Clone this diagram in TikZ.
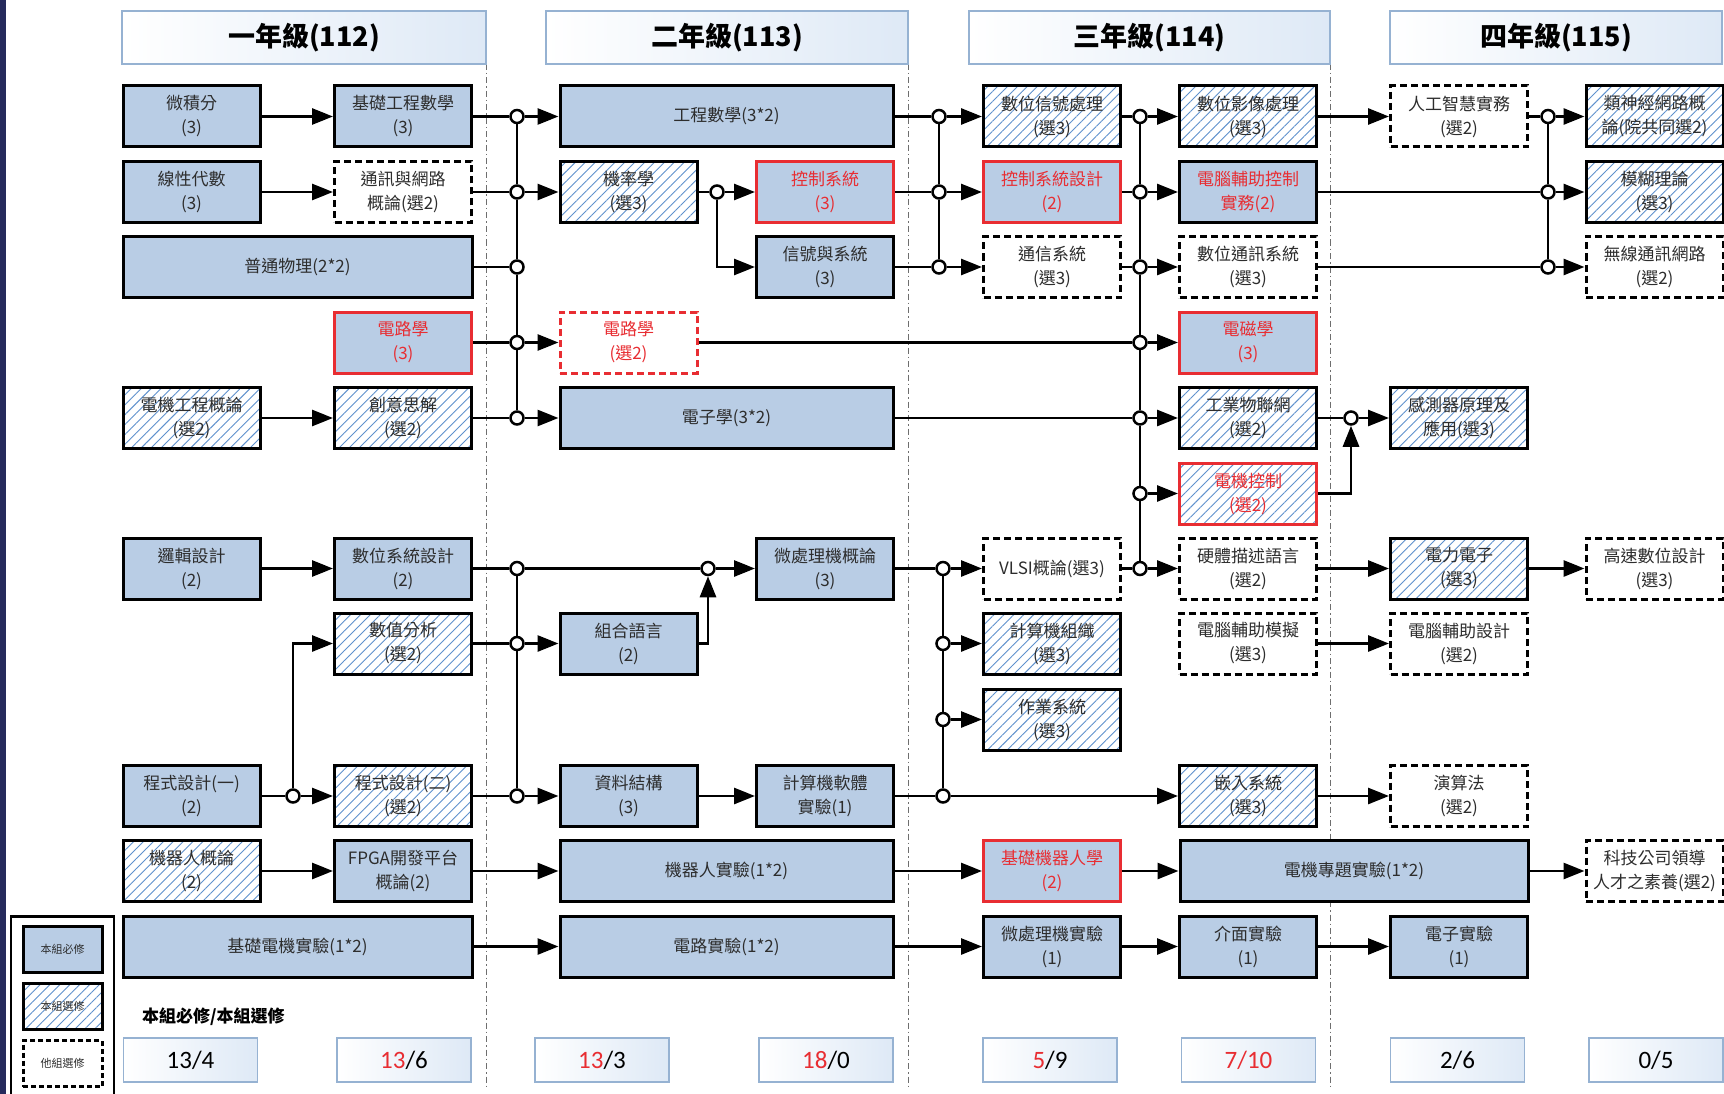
\documentclass[tikz,border=0pt]{standalone}
\usepackage{fontspec}
\setmainfont{Noto Sans CJK TC}
\newfontfamily\numfont{Carlito}
\usetikzlibrary{arrows.meta,patterns.meta}
\definecolor{boxblue}{RGB}{185,205,229}
\definecolor{hatchblue}{RGB}{95,145,205}
\definecolor{redc}{RGB}{232,45,50}
\definecolor{txt}{RGB}{45,45,45}
\definecolor{tborder}{RGB}{150,178,210}
\definecolor{tfill}{RGB}{222,233,246}
\definecolor{navy}{RGB}{38,42,92}
\definecolor{divc}{RGB}{110,110,110}
\tikzset{
  base/.style={minimum width=137pt, minimum height=61pt, inner sep=0pt, align=center,
    font=\fontsize{17}{24}\selectfont, text=txt, line width=3pt},
  req/.style={base, draw=black, fill=boxblue},
  opt/.style={base, draw=black, preaction={fill=white},
    pattern={Lines[angle=45,distance=7pt,line width=0.9pt]}, pattern color=hatchblue},
  oth/.style={base, draw=black, fill=white, dash pattern=on 7pt off 4pt},
  redb/.style={draw=redc, text=redc},
  redt/.style={text=redc},
  wideA/.style={minimum width=349pt},
  wideB/.style={minimum width=333pt},
  wideC/.style={minimum width=348pt},
  ln/.style={line width=2.8pt, draw=black},
  arr/.style={ln, -{Triangle[length=21pt,width=16pt]}},
  jn/.style={circle, draw=black, fill=white, line width=2.5pt, minimum size=13pt, inner sep=0pt},
  titlebox/.style={draw=tborder, line width=1.5pt, left color=white, right color=tfill,
    inner sep=0pt, font=\fontsize{27}{30}\selectfont\bfseries, text=black},
  cntbox/.style={draw=tborder, line width=1.5pt, left color=white, right color=tfill,
    minimum width=134pt, minimum height=44pt, inner sep=0pt, font=\numfont\fontsize{25}{28}\selectfont, text=black},
  divider/.style={draw=divc, line width=1pt, dash pattern=on 6pt off 3pt on 1.5pt off 3pt},
  legitem/.style={minimum width=79pt, minimum height=46pt, inner sep=0pt, font=\fontsize{11}{13}\selectfont, text=txt, line width=3pt}
}
\begin{document}
\begin{tikzpicture}[x=1pt,y=-1pt]
\useasboundingbox (0,0) rectangle (1724,1094);
\fill[white] (0,0) rectangle (1724,1094);
\fill[navy] (0,0) rectangle (6,1094);

% column dividers
\draw[divider] (486,64) -- (486,1088);
\draw[divider] (908,64) -- (908,1088);
\draw[divider] (1330,64) -- (1330,1088);

% titles
\node[titlebox, minimum width=364pt, minimum height=53pt] (t1) at (304,37.5) {一年級(112)};
\node[titlebox, minimum width=362pt, minimum height=53pt] (t2) at (727,37.5) {二年級(113)};
\node[titlebox, minimum width=361pt, minimum height=53pt] (t3) at (1149.5,37.5) {三年級(114)};
\node[titlebox, minimum width=332pt, minimum height=53pt] (t4) at (1556,37.5) {四年級(115)};

% ---------- year 1 ----------
\node[req] (calc) at (191.5,116.5) {微積分\\(3)};
\node[req] (bem) at (403,116.5) {基礎工程數學\\(3)};
\node[req] (linalg) at (191.5,192) {線性代數\\(3)};
\node[oth] (comm) at (403,192) {通訊與網路\\概論(選2)};
\node[req, wideA] (phys) at (297.5,267) {普通物理(2*2)};
\node[req, redb] (circ1) at (403,342.5) {電路學\\(3)};
\node[opt] (eeintro) at (191.5,418) {電機工程概論\\(選2)};
\node[opt] (creat) at (403,418) {創意思解\\(選2)};
\node[req] (logic) at (191.5,568.5) {邏輯設計\\(2)};
\node[req] (dsd) at (403,568.5) {數位系統設計\\(2)};
\node[opt] (numan) at (403,643.5) {數值分析\\(選2)};
\node[req] (prog1) at (191.5,796) {程式設計(一)\\(2)};
\node[opt] (prog2) at (403,796) {程式設計(二)\\(選2)};
\node[opt] (robintro) at (191.5,871) {機器人概論\\(2)};
\node[req] (fpga) at (403,871) {FPGA開發平台\\概論(2)};
\node[req, wideA] (eelab) at (297.5,946.5) {基礎電機實驗(1*2)};

% ---------- year 2 ----------
\node[req, wideB] (engmath) at (726.5,116.5) {工程數學(3*2)};
\node[opt] (prob) at (628.5,192) {機率學\\(選3)};
\node[req, redb] (ctrl) at (825,192) {控制系統\\(3)};
\node[req] (sigsys) at (825,267) {信號與系統\\(3)};
\node[oth, redb] (circ2) at (628.5,342.5) {電路學\\(選2)};
\node[req, wideB] (elec) at (726.5,418) {電子學(3*2)};
\node[req] (micro) at (825,568.5) {微處理機概論\\(3)};
\node[req] (asm) at (628.5,643.5) {組合語言\\(2)};
\node[req] (ds) at (628.5,796) {資料結構\\(3)};
\node[req] (swlab) at (825,796) {計算機軟體\\實驗(1)};
\node[req, wideB] (roblab) at (726.5,871) {機器人實驗(1*2)};
\node[req, wideB] (circlab) at (726.5,946.5) {電路實驗(1*2)};

% ---------- year 3 ----------
\node[opt] (dsp) at (1052,116.5) {數位信號處理\\(選3)};
\node[req, redb] (ctrld) at (1052,192) {控制系統設計\\(2)};
\node[oth] (commsys) at (1052,267) {通信系統\\(選3)};
\node[oth] (vlsi) at (1052,568.5) {VLSI概論(選3)};
\node[opt] (co) at (1052,643.5) {計算機組織\\(選3)};
\node[opt] (os) at (1052,719.5) {作業系統\\(選3)};
\node[req, redb] (robo) at (1052,871) {基礎機器人學\\(2)};
\node[req] (uplab) at (1052,946.5) {微處理機實驗\\(1)};

\node[opt] (dip) at (1248,116.5) {數位影像處理\\(選3)};
\node[req, redt] (cacp) at (1248,192) {電腦輔助控制\\實務(2)};
\node[oth] (dcomm) at (1248,267) {數位通訊系統\\(選3)};
\node[req, redb] (em) at (1248,342.5) {電磁學\\(3)};
\node[opt] (iiot) at (1248,418) {工業物聯網\\(選2)};
\node[opt, redb] (motor) at (1248,493.5) {電機控制\\(選2)};
\node[oth] (hdl) at (1248,568.5) {硬體描述語言\\(選2)};
\node[oth] (cas) at (1248,643.5) {電腦輔助模擬\\(選3)};
\node[opt] (emb) at (1248,796) {嵌入系統\\(選3)};
\node[req, wideC] (proj) at (1354,871) {電機專題實驗(1*2)};
\node[req] (iflab) at (1248,946.5) {介面實驗\\(1)};

% ---------- year 4 ----------
\node[oth] (ai) at (1459,116.5) {人工智慧實務\\(選2)};
\node[opt] (sensor) at (1459,418) {感測器原理及\\應用(選3)};
\node[opt] (pe) at (1459,568.5) {電力電子\\(選3)};
\node[oth] (cad) at (1459,643.5) {電腦輔助設計\\(選2)};
\node[oth] (algo) at (1459,796) {演算法\\(選2)};
\node[req] (elab) at (1459,946.5) {電子實驗\\(1)};

\node[opt] (nn) at (1654.5,116.5) {類神經網路概\\論(院共同選2)};
\node[opt] (fuzzy) at (1654.5,192) {模糊理論\\(選3)};
\node[oth] (wireless) at (1654.5,267) {無線通訊網路\\(選2)};
\node[oth] (hsd) at (1654.5,568.5) {高速數位設計\\(選3)};
\node[oth] (lead) at (1654.5,871) {科技公司領導\\人才之素養(選2)};

% ---------- junctions ----------
\node[jn] (jp) at (293,796) {};
\node[jn] (ja1) at (517,116.5) {};
\node[jn] (ja2) at (517,192) {};
\node[jn] (ja3) at (517,267) {};
\node[jn] (ja4) at (517,342.5) {};
\node[jn] (ja5) at (517,418) {};
\node[jn] (ja7) at (517,568.5) {};
\node[jn] (ja8) at (517,643.5) {};
\node[jn] (ja10) at (517,796) {};
\node[jn] (jb7) at (708,568.5) {};
\node[jn] (jc2) at (717,192) {};
\node[jn] (jd1) at (939,116.5) {};
\node[jn] (jd2) at (939,192) {};
\node[jn] (jd3) at (939,267) {};
\node[jn] (je7) at (943,568.5) {};
\node[jn] (je8) at (943,643.5) {};
\node[jn] (je9) at (943,719.5) {};
\node[jn] (je10) at (943,796) {};
\node[jn] (jf1) at (1140,116.5) {};
\node[jn] (jf2) at (1140,192) {};
\node[jn] (jf3) at (1140,267) {};
\node[jn] (jf4) at (1140,342.5) {};
\node[jn] (jf5) at (1140,418) {};
\node[jn] (jf6) at (1140,493.5) {};
\node[jn] (jf7) at (1140,568.5) {};
\node[jn] (jg5) at (1351,418) {};
\node[jn] (jh1) at (1548,116.5) {};
\node[jn] (jh2) at (1548,192) {};
\node[jn] (jh3) at (1548,267) {};

% ---------- connectors ----------
% year 1 internal
\draw[arr] (calc.east) -- (bem.west);
\draw[arr] (linalg.east) -- (comm.west);
\draw[arr] (eeintro.east) -- (creat.west);
\draw[arr] (logic.east) -- (dsd.west);
\draw[ln] (prog1.east) -- (jp);
\draw[arr] (jp) -- (prog2.west);
\draw[arr] (jp) |- (numan.west);
\draw[arr] (robintro.east) -- (fpga.west);

% year 1 -> year 2
\draw[ln] (bem.east) -- (ja1);
\draw[arr] (ja1) -- (engmath.west);
\draw[ln] (comm.east) -- (ja2);
\draw[arr] (ja2) -- (prob.west);
\draw[ln] (phys.east) -- (ja3);
\draw[ln] (circ1.east) -- (ja4);
\draw[arr] (ja4) -- (circ2.west);
\draw[ln] (creat.east) -- (ja5);
\draw[arr] (ja5) -- (elec.west);
\draw[ln] (ja1) -- (ja2);
\draw[ln] (ja2) -- (ja3);
\draw[ln] (ja3) -- (ja4);
\draw[ln] (ja4) -- (ja5);
\draw[ln] (dsd.east) -- (ja7);
\draw[ln] (ja7) -- (jb7);
\draw[arr] (jb7) -- (micro.west);
\draw[arr] (asm.east) -| (jb7);
\draw[ln] (numan.east) -- (ja8);
\draw[arr] (ja8) -- (asm.west);
\draw[ln] (prog2.east) -- (ja10);
\draw[arr] (ja10) -- (ds.west);
\draw[ln] (ja7) -- (ja8);
\draw[ln] (ja8) -- (ja10);
\draw[arr] (fpga.east) -- (roblab.west);
\draw[arr] (eelab.east) -- (circlab.west);

% year 2 internal
\draw[ln] (prob.east) -- (jc2);
\draw[arr] (jc2) -- (ctrl.west);
\draw[arr] (jc2) |- (sigsys.west);
\draw[arr] (ds.east) -- (swlab.west);

% year 2 -> year 3
\draw[ln] (engmath.east) -- (jd1);
\draw[arr] (jd1) -- (dsp.west);
\draw[ln] (ctrl.east) -- (jd2);
\draw[arr] (jd2) -- (ctrld.west);
\draw[ln] (sigsys.east) -- (jd3);
\draw[arr] (jd3) -- (commsys.west);
\draw[ln] (jd1) -- (jd2);
\draw[ln] (jd2) -- (jd3);
\draw[ln] (micro.east) -- (je7);
\draw[arr] (je7) -- (vlsi.west);
\draw[arr] (je8) -- (co.west);
\draw[arr] (je9) -- (os.west);
\draw[ln] (swlab.east) -- (je10);
\draw[arr] (je10) -- (emb.west);
\draw[ln] (je7) -- (je8);
\draw[ln] (je8) -- (je9);
\draw[ln] (je9) -- (je10);
\draw[arr] (roblab.east) -- (robo.west);
\draw[arr] (circlab.east) -- (uplab.west);

% year 3 internal
\draw[ln] (dsp.east) -- (jf1);
\draw[arr] (jf1) -- (dip.west);
\draw[ln] (ctrld.east) -- (jf2);
\draw[arr] (jf2) -- (cacp.west);
\draw[ln] (commsys.east) -- (jf3);
\draw[arr] (jf3) -- (dcomm.west);
\draw[ln] (circ2.east) -- (jf4);
\draw[arr] (jf4) -- (em.west);
\draw[ln] (elec.east) -- (jf5);
\draw[arr] (jf5) -- (iiot.west);
\draw[arr] (jf6) -- (motor.west);
\draw[ln] (vlsi.east) -- (jf7);
\draw[arr] (jf7) -- (hdl.west);
\draw[ln] (jf1) -- (jf2);
\draw[ln] (jf2) -- (jf3);
\draw[ln] (jf3) -- (jf4);
\draw[ln] (jf4) -- (jf5);
\draw[ln] (jf5) -- (jf6);
\draw[ln] (jf6) -- (jf7);
\draw[arr] (robo.east) -- (proj.west);
\draw[arr] (uplab.east) -- (iflab.west);

% year 3 -> year 4
\draw[arr] (dip.east) -- (ai.west);
\draw[ln] (iiot.east) -- (jg5);
\draw[arr] (jg5) -- (sensor.west);
\draw[arr] (motor.east) -| (jg5);
\draw[arr] (hdl.east) -- (pe.west);
\draw[arr] (cas.east) -- (cad.west);
\draw[arr] (emb.east) -- (algo.west);
\draw[arr] (iflab.east) -- (elab.west);
\draw[arr] (proj.east) -- (lead.west);
\draw[ln] (ai.east) -- (jh1);
\draw[arr] (jh1) -- (nn.west);
\draw[ln] (cacp.east) -- (jh2);
\draw[arr] (jh2) -- (fuzzy.west);
\draw[ln] (dcomm.east) -- (jh3);
\draw[arr] (jh3) -- (wireless.west);
\draw[ln] (jh1) -- (jh2);
\draw[ln] (jh2) -- (jh3);
\draw[arr] (pe.east) -- (hsd.west);

% ---------- legend ----------
\draw[line width=2.5pt] (114,1100) |- (11,916.5) -- (11,1100);
\node[legitem, draw=black, fill=boxblue] (lg1) at (62.5,949) {本組必修};
\node[legitem, draw=black, preaction={fill=white},
  pattern={Lines[angle=45,distance=7pt,line width=0.9pt]}, pattern color=hatchblue] (lg2) at (62.5,1006.5) {本組選修};
\node[legitem, draw=black, fill=white, dash pattern=on 5pt off 3pt] (lg3) at (62.5,1063.5) {他組選修};

\node[anchor=west, font=\fontsize{17}{20}\selectfont\bfseries, text=black, inner sep=0pt] (sumlabel) at (142,1017) {本組必修/本組選修};

% ---------- credit counts ----------
\node[cntbox] (n1) at (190.5,1060) {13/4};
\node[cntbox] (n2) at (404,1060) {\textcolor{redc}{13}/6};
\node[cntbox] (n3) at (602,1060) {\textcolor{redc}{13}/3};
\node[cntbox] (n4) at (826,1060) {\textcolor{redc}{18}/0};
\node[cntbox] (n5) at (1050,1060) {\textcolor{redc}{5}/9};
\node[cntbox] (n6) at (1248.5,1060) {\textcolor{redc}{7/10}};
\node[cntbox] (n7) at (1457.5,1060) {2/6};
\node[cntbox] (n8) at (1656,1060) {0/5};
\end{tikzpicture}
\end{document}
